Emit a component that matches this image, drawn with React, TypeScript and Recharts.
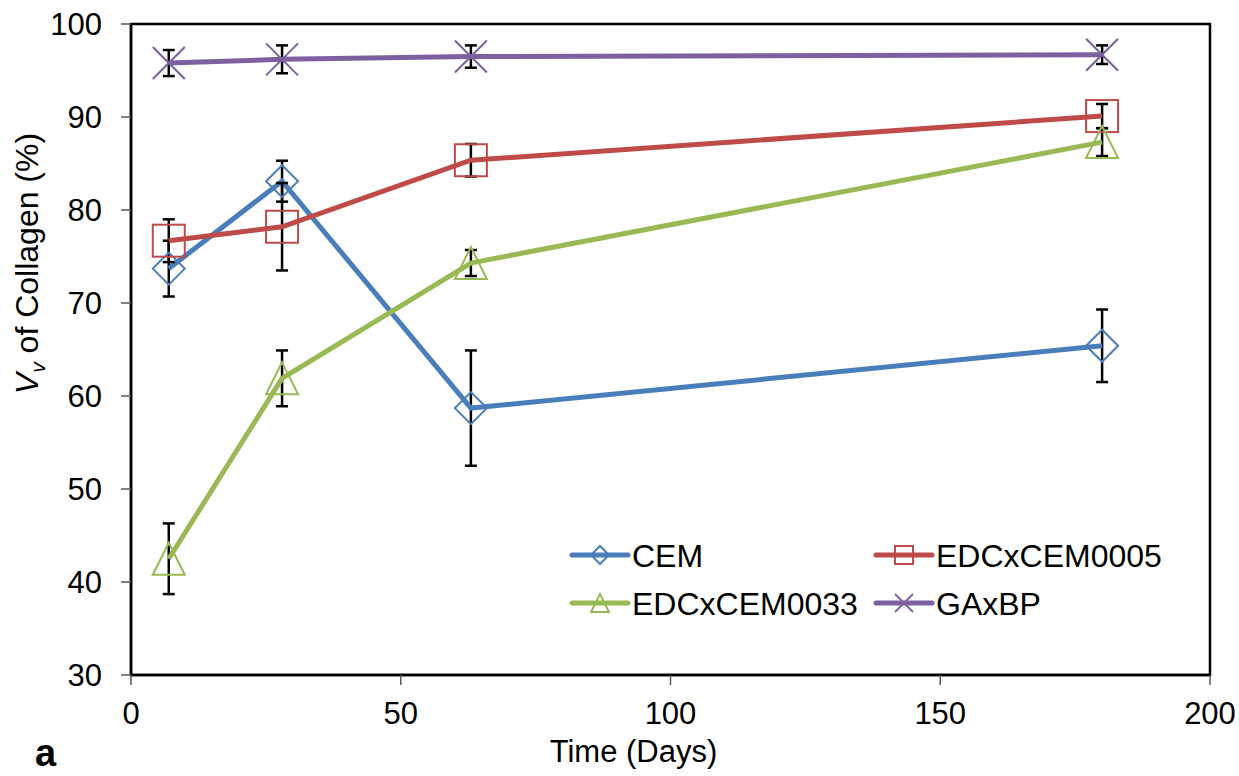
import React from 'react';
import {
  LineChart,
  Line,
  XAxis,
  YAxis,
  ErrorBar,
  Legend,
  ReferenceArea,
} from 'recharts';

const days = [7, 28, 63, 180];

const cemValues = [73.7, 83.1, 58.7, 65.4];
const cemErrors = [3.0, 2.2, 6.2, 3.9];
const edc0005Values = [76.7, 78.2, 85.35, 90.1];
const edc0005Errors = [2.3, 4.7, 1.75, 1.3];
const edc0033Values = [42.5, 61.9, 74.3, 87.3];
const edc0033Errors = [3.8, 3.0, 1.4, 1.5];
const gaxbpValues = [95.8, 96.2, 96.5, 96.7];
const gaxbpErrors = [1.4, 1.5, 1.2, 1.0];

const xTicks = [0, 50, 100, 150, 200];
const yTicks = [30, 40, 50, 60, 70, 80, 90, 100];

type Shape = 'diamond' | 'square' | 'triangle' | 'cross';

const series: { key: string; name: string; color: string; shape: Shape }[] = [
  { key: 'cem', name: 'CEM', color: '#4A7EBB', shape: 'diamond' },
  { key: 'edc0005', name: 'EDCxCEM0005', color: '#BE4B48', shape: 'square' },
  { key: 'edc0033', name: 'EDCxCEM0033', color: '#98B954', shape: 'triangle' },
  { key: 'gaxbp', name: 'GAxBP', color: '#7D60A0', shape: 'cross' },
];

const data = days.map((day, i) => ({
  day,
  cem: cemValues[i],
  cemErr: cemErrors[i],
  edc0005: edc0005Values[i],
  edc0005Err: edc0005Errors[i],
  edc0033: edc0033Values[i],
  edc0033Err: edc0033Errors[i],
  gaxbp: gaxbpValues[i],
  gaxbpErr: gaxbpErrors[i],
}));

const font = '"Liberation Sans", Arial, sans-serif';

const Marker = ({ shape, cx, cy, r, color, sw }: { shape: Shape; cx: number; cy: number; r: number; color: string; sw: number }) => {
  if (shape === 'diamond') {
    return <path d={`M${cx},${cy - r}L${cx + r},${cy}L${cx},${cy + r}L${cx - r},${cy}Z`} fill="none" stroke={color} strokeWidth={sw} />;
  }
  if (shape === 'square') {
    return <rect x={cx - r} y={cy - r} width={2 * r} height={2 * r} fill="none" stroke={color} strokeWidth={sw} />;
  }
  if (shape === 'triangle') {
    return <path d={`M${cx},${cy - r}L${cx + r},${cy + r}L${cx - r},${cy + r}Z`} fill="none" stroke={color} strokeWidth={sw} />;
  }
  return (
    <g stroke={color} strokeWidth={sw}>
      <line x1={cx - r} y1={cy - r} x2={cx + r} y2={cy + r} />
      <line x1={cx - r} y1={cy + r} x2={cx + r} y2={cy - r} />
    </g>
  );
};

const LegendBox = () => {
  const cols = [7, 311];
  const rows = [25, 73];
  return (
    <svg width={640} height={100}>
      {series.map((s, i) => {
        const x = cols[i % 2];
        const y = rows[Math.floor(i / 2)];
        return (
          <g key={s.key}>
            <line x1={x} y1={y} x2={x + 56} y2={y} stroke={s.color} strokeWidth={5} strokeLinecap="round" />
            <Marker shape={s.shape} cx={x + 28} cy={y} r={9} color={s.color} sw={2} />
            <text x={x + 60} y={y} dy="0.36em" fontSize={32} fontFamily={font} fill="#000">
              {s.name}
            </text>
          </g>
        );
      })}
    </svg>
  );
};

const YTitle = (props: any) => {
  const vb = props.viewBox;
  const x = 37.5;
  const y = vb.y + vb.height / 2 - 86;
  return (
    <text x={x} y={y} transform={`rotate(-90, ${x}, ${y})`} textAnchor="middle" fontSize={32} fontFamily={font} fill="#000">
      <tspan fontStyle="italic">V</tspan>
      <tspan fontStyle="italic" fontSize={21} dy={7}>v</tspan>
      <tspan dy={-7}> of Collagen (%)</tspan>
    </text>
  );
};

const XTitle = (props: any) => {
  const vb = props.viewBox;
  return (
    <g>
      <text x={vb.x + vb.width / 2 - 37} y={762} textAnchor="middle" fontSize={31} fontFamily={font} fill="#000">
        Time (Days)
      </text>
      <text x={35} y={766} fontSize={38} fontWeight="bold" fontFamily={font} fill="#000">
        a
      </text>
    </g>
  );
};

export default function App() {
  return (
    <div style={{ position: 'absolute', left: 0, top: 0, background: '#fff', fontFamily: font }}>
      <LineChart width={1239} height={776} data={data} margin={{ top: 24, right: 29, bottom: 0, left: 0 }}>
        <ReferenceArea x1={0} x2={200} y1={30} y2={100} fill="none" stroke="#000" strokeWidth={2.5} ifOverflow="visible" />
        <XAxis
          type="number"
          dataKey="day"
          domain={[0, 200]}
          ticks={xTicks}
          interval={0}
          height={101}
          tickSize={10}
          tickMargin={17}
          axisLine={{ stroke: '#000', strokeWidth: 2.5 }}
          tickLine={{ stroke: '#595959', strokeWidth: 1.5 }}
          tick={{ fill: '#000', fontSize: 31, fontFamily: font }}
          label={{ content: XTitle }}
        />
        <YAxis
          type="number"
          domain={[30, 100]}
          ticks={yTicks}
          interval={0}
          width={131}
          tickSize={10}
          tickMargin={19}
          axisLine={{ stroke: '#000', strokeWidth: 2.5 }}
          tickLine={{ stroke: '#595959', strokeWidth: 1.5 }}
          tick={{ fill: '#000', fontSize: 31, fontFamily: font }}
          label={{ content: YTitle }}
        />
        <Legend
          layout="horizontal"
          verticalAlign="middle"
          align="center"
          content={LegendBox}
          wrapperStyle={{ left: 565, top: 530, width: 640, height: 100 }}
        />
        {series.map((s) => (
          <Line
            key={s.key}
            type="linear"
            dataKey={s.key}
            name={s.name}
            stroke={s.color}
            strokeWidth={5}
            isAnimationActive={false}
            activeDot={false}
            dot={(p: any) => (
              <Marker key={`${s.key}-${p.index}`} shape={s.shape} cx={p.cx} cy={p.cy} r={16} color={s.color} sw={2} />
            )}
          >
            <ErrorBar dataKey={`${s.key}Err`} direction="y" width={6} stroke="#000" strokeWidth={2.5} isAnimationActive={false} />
          </Line>
        ))}
      </LineChart>
    </div>
  );
}
